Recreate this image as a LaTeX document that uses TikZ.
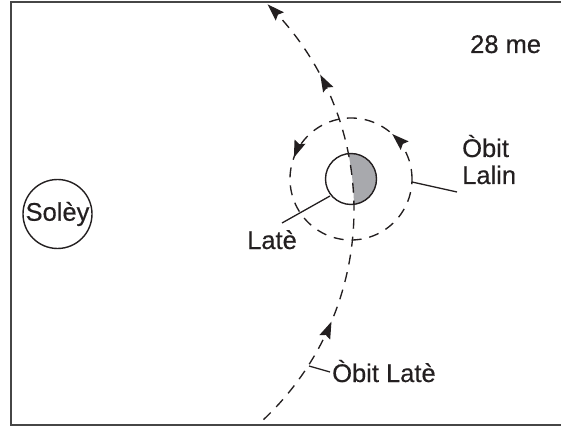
\documentclass[tikz,border=0pt]{standalone}
\usepackage{fontspec}
\setmainfont{Liberation Sans}
\newfontfamily\lblfont[FakeBold=0.4]{Liberation Sans}
\usetikzlibrary{arrows.meta,decorations.markings}
\definecolor{ink}{RGB}{35,31,32}
\definecolor{framegray}{RGB}{70,70,70}
\definecolor{earthgray}{RGB}{168,169,173}
\tikzset{
  orbit/.style={draw=ink, line width=1.35pt, dash pattern=on 10pt off 8pt},
  body/.style={circle, draw=ink, line width=1.4pt, fill=white, inner sep=0pt},
  lbl/.style={font=\lblfont\fontsize{25.5}{27}\selectfont, text=ink, inner sep=0pt},
  leader/.style={draw=ink, line width=1.3pt},
}
\begin{document}
\begin{tikzpicture}[x=1pt,y=-1pt,>={Stealth[length=17pt,width=11.5pt,inset=2.5pt]}]
\useasboundingbox (0,0) rectangle (561,427);
% frame
\draw[framegray, line width=1.6pt] (563,2) -- (11,2) -- (11,425) -- (563,425);
% sun
\node[body, lbl, minimum size=69pt] (sun) at (57.5,214) {Solèy};
% moon orbit
\draw[orbit, postaction={decorate},
  decoration={markings,
    mark=at position 0.132 with {\arrow{>}},
    mark=at position 0.443 with {\arrow{>}}}]
  plot[domain=0:-360, samples=181] ({351+61*cos(\x)},{179+61*sin(\x)});
% earth
\node[circle, fill=white, inner sep=0pt, minimum size=51pt] (earth) at (351,179) {};
\begin{scope}
  \clip (earth.center) circle [radius=25.5pt];
  \fill[earthgray] plot[domain=-16:4, samples=30] ({66+288*cos(\x)},{210+288*sin(\x)})
    -- (400,230) -- (400,130) -- cycle;
\end{scope}
\draw[ink, line width=1.4pt] (earth.center) circle [radius=25.5pt];
% earth orbit
\draw[orbit, ->, postaction={decorate},
  decoration={markings,
    mark=at position 0.259 with {\arrow{>}},
    mark=at position 0.81 with {\arrow{>}}}]
  plot[domain=46.7:-45.55, samples=120] ({66+288*cos(\x)},{210+288*sin(\x)});
% labels
\node[lbl, anchor=base west] (days) at (470,53) {28 me};
\node[lbl, anchor=base west] (lateLbl) at (247,249) {Latè};
\node[lbl, anchor=base west, align=left] (moonLbl) at (462,184) {Òbit\\Lalin};
\node[lbl, anchor=base west] (orbLbl) at (332,382) {Òbit Latè};
% leaders
\coordinate (lA) at (330,196);
\coordinate (lB) at (282,223);
\draw[leader] (lA) -- (lB);
\coordinate (mA) at (412,182);
\coordinate (mB) at (457,192);
\draw[leader] (mA) -- (mB);
\coordinate (oA) at (309,366);
\coordinate (oB) at (330,372);
\draw[leader] (oA) -- (oB);
\end{tikzpicture}
\end{document}
